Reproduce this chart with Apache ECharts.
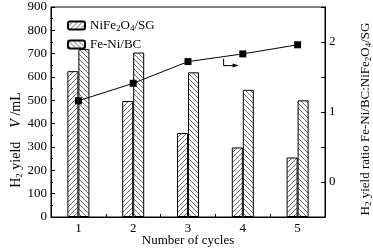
<!DOCTYPE html>
<html>
<head>
<meta charset="utf-8">
<script src="https://cdn.jsdelivr.net/npm/echarts@6/dist/echarts.min.js"></script>
<style>
  html, body { margin: 0; padding: 0; background: #fff; }
  #chart { width: 373px; height: 249px; }
</style>
</head>
<body>
<div id="chart"></div>
<script>
  const cycles = ['1', '2', '3', '4', '5'];
  const nife = [625, 497, 360, 298, 255];
  const feni = [720, 705, 620, 545, 500];
  const ratio = [1.16, 1.41, 1.72, 1.83, 1.96];
  const leftTicks = [0, 100, 200, 300, 400, 500, 600, 700, 800, 900];
  const rightTicks = [0, 1, 2];

  const FONT = 'Liberation Serif';

  // diagonal hatch tile; up = true gives "/" lines, false gives "\"
  function hatch(up) {
    const n = 5;
    const c = document.createElement('canvas');
    c.width = n; c.height = n;
    const ctx = c.getContext('2d');
    ctx.fillStyle = '#fff';
    ctx.fillRect(0, 0, n, n);
    ctx.fillStyle = '#6a6a6a';
    for (let i = 0; i < n; i++) {
      ctx.fillRect(i, up ? n - 1 - i : i, 1, 1);
    }
    return { image: c, repeat: 'repeat' };
  }

  const myChart = echarts.init(document.getElementById('chart'));
  const option = {
    animation: false,
    textStyle: { fontFamily: FONT, color: '#000' },
    grid: {
      left: 51, right: 48, top: 7, bottom: 32,
      outerBoundsMode: 'none',
      containLabel: false,
      show: true, borderColor: '#000', borderWidth: 1
    },
    legend: {
      left: 62, top: 14,
      orient: 'vertical',
      itemWidth: 17, itemHeight: 8, itemGap: 5,
      textStyle: { fontFamily: FONT, fontSize: 13, color: '#000',
        rich: { sub: { fontFamily: FONT, fontSize: 9, verticalAlign: 'bottom', padding: [6, 0, 0, 0] } } },
      formatter: function (name) {
        if (name === 'NiFe2O4/SG') return 'NiFe{sub|2}O{sub|4}/SG';
        return name;
      },
      data: ['NiFe2O4/SG', 'Fe-Ni/BC']
    },
    xAxis: {
      type: 'category',
      data: cycles,
      name: 'Number of cycles',
      nameLocation: 'middle',
      nameGap: 17,
      nameMoveOverlap: false,
      nameTextStyle: { fontFamily: FONT, fontSize: 13, color: '#000' },
      axisLine: { lineStyle: { color: '#000' } },
      axisTick: { show: true, inside: true, length: 3, lineStyle: { color: '#000' } },
      axisLabel: { fontFamily: FONT, fontSize: 13, color: '#000', margin: 5 }
    },
    yAxis: [
      {
        type: 'value',
        min: 0, max: 900, interval: 100,
        name: 'H{sub|2} yield    {it|V} /mL',
        nameLocation: 'middle',
        nameGap: 27,
        nameMoveOverlap: false,
        nameRotate: 90,
        nameTextStyle: {
          fontFamily: FONT, fontSize: 14, color: '#000', padding: [0, 56, 0, 0],
          rich: {
            sub: { fontFamily: FONT, fontSize: 9, verticalAlign: 'bottom', padding: [6, 0, 0, 0] },
            it: { fontFamily: FONT, fontSize: 14, fontStyle: 'italic' }
          }
        },
        axisLine: { show: true, lineStyle: { color: '#000' } },
        axisTick: { show: true, inside: true, length: 4, lineStyle: { color: '#000' } },
        minorTick: { show: true, splitNumber: 2, length: 2, lineStyle: { color: '#000' } },
        splitLine: { show: false },
        axisLabel: {
          fontFamily: FONT, fontSize: 13, color: '#000', margin: 4,
          formatter: v => leftTicks.includes(v) ? String(v) : ''
        }
      },
      {
        type: 'value',
        min: -0.5, max: 2.5, interval: 0.5,
        position: 'right',
        name: 'H{sub|2} yield ratio Fe-Ni/BC:NiFe{sub|2}O{sub|4}/SG',
        nameLocation: 'middle',
        nameGap: 34,
        nameMoveOverlap: false,
        nameRotate: 90,
        nameTextStyle: {
          fontFamily: FONT, fontSize: 13, color: '#000', padding: [0, 14, 0, 0],
          rich: {
            sub: { fontFamily: FONT, fontSize: 9, verticalAlign: 'bottom', padding: [5, 0, 0, 0] }
          }
        },
        axisLine: { show: true, lineStyle: { color: '#000' } },
        axisTick: { show: true, inside: true, length: 4, lineStyle: { color: '#000' } },
        splitLine: { show: false },
        axisLabel: {
          fontFamily: FONT, fontSize: 13, color: '#000', margin: 4,
          formatter: v => rightTicks.includes(v) ? String(v) : ''
        }
      }
    ],
    series: [
      {
        name: 'NiFe2O4/SG',
        type: 'bar',
        barWidth: 11,
        barGap: '0%',
        itemStyle: { color: hatch(true), borderColor: '#000', borderWidth: 1 },
        data: nife
      },
      {
        name: 'Fe-Ni/BC',
        type: 'bar',
        barWidth: 11,
        barGap: '0%',
        itemStyle: { color: hatch(false), borderColor: '#000', borderWidth: 1 },
        data: feni
      },
      {
        name: 'ratio',
        type: 'line',
        yAxisIndex: 1,
        symbol: 'rect',
        symbolSize: 7,
        itemStyle: { color: '#000' },
        lineStyle: { color: '#000', width: 1 },
        data: ratio
      }
    ]
  };
  option && myChart.setOption(option);

  // small arrow pointing to the right axis, anchored between cycle 3 and 4
  const p3 = myChart.convertToPixel({ xAxisIndex: 0, yAxisIndex: 1 }, [2, ratio[2]]);
  const p4 = myChart.convertToPixel({ xAxisIndex: 0, yAxisIndex: 1 }, [3, ratio[3]]);
  const ax = p3[0] + (p4[0] - p3[0]) * 0.65;
  const ay = p3[1] + (p4[1] - p3[1]) * 0.65 + 2;
  myChart.setOption({
    graphic: [
      { type: 'polyline', shape: { points: [[ax, ay], [ax, ay + 7], [ax + 10, ay + 7]] },
        style: { stroke: '#000', lineWidth: 1, fill: null } },
      { type: 'polygon', shape: { points: [[ax + 9, ay + 5], [ax + 15, ay + 7], [ax + 9, ay + 9]] },
        style: { fill: '#000' } }
    ]
  });
</script>
</body>
</html>
